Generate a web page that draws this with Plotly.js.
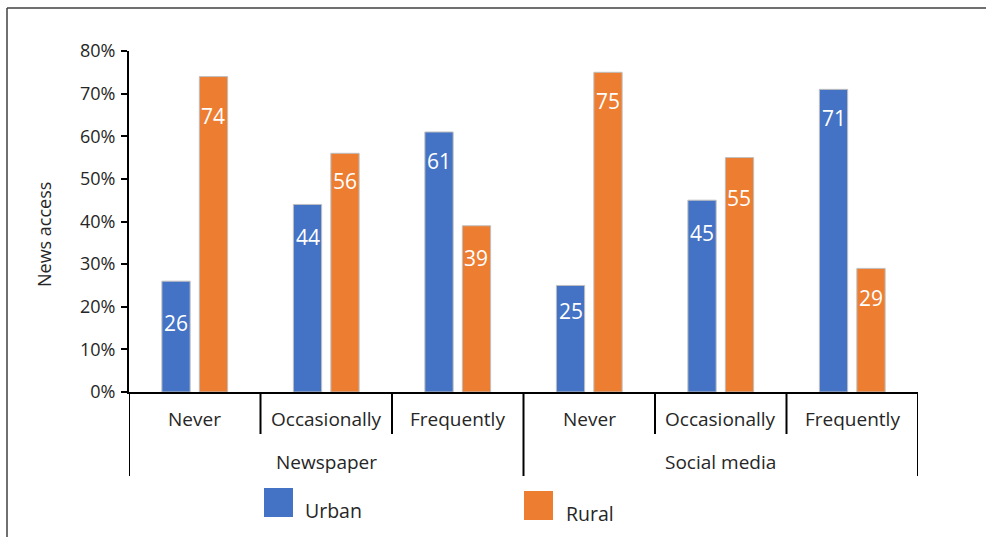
<!DOCTYPE html>
<html>
<head>
<meta charset="utf-8">
<script src="https://cdn.plot.ly/plotly-3.0.1.min.js"></script>
<style>
  html, body { margin: 0; padding: 0; background: #fff; }
  #chart { width: 986px; height: 537px; }
</style>
</head>
<body>
<div id="chart"></div>
<script>
// News access by frequency, newspaper vs social media, urban vs rural (%)
const groups = ["Newspaper", "Social media"];
const frequencies = ["Never", "Occasionally", "Frequently"];
const seriesNames = ["Urban", "Rural"];
const urbanValues = [26, 44, 61, 25, 45, 71];
const ruralValues = [74, 56, 39, 75, 55, 29];
const yTickVals = [0, 0.1, 0.2, 0.3, 0.4, 0.5, 0.6, 0.7, 0.8];

const colors = ["#4472C4", "#ED7D31"];
const textColor = "#262626";
const fontFamily = "'Open Sans', 'DejaVu Sans', sans-serif";

// how far (px) each value label sits below its bar's top
const labelDrop = [
  [42, 33, 29, 26, 33, 29],
  [39, 28, 32, 29, 40, 30]
];

// one x slot per (group, frequency) pair
const categories = [];
groups.forEach(g => frequencies.forEach(f => categories.push({ group: g, freq: f })));
const xs = categories.map((_, i) => i);

const barWidth = 0.215;
const offsets = [-0.25, 0.035];
const seriesValues = [urbanValues, ruralValues];

const traces = seriesValues.map((vals, s) => ({
  type: "bar",
  name: seriesNames[s],
  x: xs,
  y: vals.map(v => v / 100),
  width: barWidth,
  offset: offsets[s],
  marker: { color: colors[s], line: { color: "#bfbfbf", width: 1 } },
  showlegend: false,
  hoverinfo: "skip"
}));

const annotations = [];

// value labels, white, inside the upper part of each bar
seriesValues.forEach((vals, s) => {
  vals.forEach((v, i) => {
    annotations.push({
      x: i + offsets[s] + barWidth / 2,
      y: v / 100,
      xref: "x", yref: "y",
      text: String(v),
      showarrow: false,
      yanchor: "middle",
      yshift: -labelDrop[s][i],
      font: { family: fontFamily, size: 21, color: "#ffffff" }
    });
  });
});

// plot area geometry (px) used to convert to paper coords
const plotLeft = 129, plotRight = 918, plotTop = 51, plotBottom = 392;
const pw = plotRight - plotLeft, ph = plotBottom - plotTop;
const px = x => (x - plotLeft) / pw;
const py = y => (plotBottom - y) / ph;

// frequency labels under the axis
categories.forEach((c, i) => {
  annotations.push({
    x: i, y: py(419), xref: "x", yref: "paper",
    text: c.freq, showarrow: false, yanchor: "middle",
    font: { family: fontFamily, size: 19, color: textColor }
  });
});

// group labels
groups.forEach((g, gi) => {
  annotations.push({
    x: gi * frequencies.length + (frequencies.length - 1) / 2,
    y: py(462), xref: "x", yref: "paper",
    text: g, showarrow: false, yanchor: "middle",
    font: { family: fontFamily, size: 19, color: textColor }
  });
});

// y axis title
annotations.push({
  x: px(44), y: py(235), xref: "paper", yref: "paper",
  text: "News access", textangle: -90, showarrow: false,
  xanchor: "center", yanchor: "middle",
  font: { family: fontFamily, size: 18, color: textColor }
});

const shapes = [];

// separators between frequencies within a group
categories.forEach((c, i) => {
  if (i === 0) return;
  const groupEdge = i % frequencies.length === 0;
  shapes.push({
    type: "line", xref: "x", yref: "paper",
    x0: i - 0.5, x1: i - 0.5, y0: 0, y1: groupEdge ? py(476) : py(434),
    line: { color: "#000000", width: 2 }
  });
});
// outer group edges
[-0.5, categories.length - 0.5].forEach(x => {
  shapes.push({
    type: "line", xref: "x", yref: "paper",
    x0: x, x1: x, y0: 0, y1: py(476),
    line: { color: "#000000", width: 2 }
  });
});

// legend swatches and labels
const legendPos = [
  { sx: 264, sy: 488, tx: 305, ty: 510 },
  { sx: 524, sy: 491, tx: 566, ty: 513 }
];
seriesNames.forEach((name, s) => {
  const p = legendPos[s];
  shapes.push({
    type: "rect", xref: "paper", yref: "paper",
    x0: px(p.sx), x1: px(p.sx + 29), y0: py(p.sy + 29), y1: py(p.sy),
    fillcolor: colors[s], line: { width: 0 }
  });
  annotations.push({
    x: px(p.tx - 2), y: py(p.ty), xref: "paper", yref: "paper",
    text: name, showarrow: false, xanchor: "left", yanchor: "middle",
    font: { family: fontFamily, size: 19.5, color: textColor }
  });
});

// outer frame (left and top edges)
shapes.push({
  type: "line", xref: "paper", yref: "paper",
  x0: px(7), x1: px(7), y0: py(8), y1: py(540),
  line: { color: "#404040", width: 1.5 }
});
shapes.push({
  type: "line", xref: "paper", yref: "paper",
  x0: px(7), x1: px(990), y0: py(8), y1: py(8),
  line: { color: "#404040", width: 1.5 }
});

const layout = {
  width: 986, height: 537,
  margin: { l: plotLeft, r: 986 - plotRight, t: plotTop, b: 537 - plotBottom, pad: 0 },
  paper_bgcolor: "#ffffff", plot_bgcolor: "#ffffff",
  barmode: "overlay",
  showlegend: false,
  font: { family: fontFamily, color: textColor },
  xaxis: {
    range: [-0.5, categories.length - 0.5],
    showticklabels: false, ticks: "", showgrid: false, zeroline: false,
    showline: true, linecolor: "#000000", linewidth: 2, fixedrange: true
  },
  yaxis: {
    range: [0, 0.8], tickvals: yTickVals, tickformat: ".0%",
    ticks: "outside", ticklen: 6, tickwidth: 2, tickcolor: "#000000",
    ticklabelstandoff: 2,
    showgrid: false, zeroline: false,
    showline: true, linecolor: "#000000", linewidth: 2,
    tickfont: { family: fontFamily, size: 18, color: textColor },
    fixedrange: true
  },
  annotations: annotations,
  shapes: shapes
};

Plotly.newPlot("chart", traces, layout, { displayModeBar: false, staticPlot: true });
</script>
</body>
</html>
